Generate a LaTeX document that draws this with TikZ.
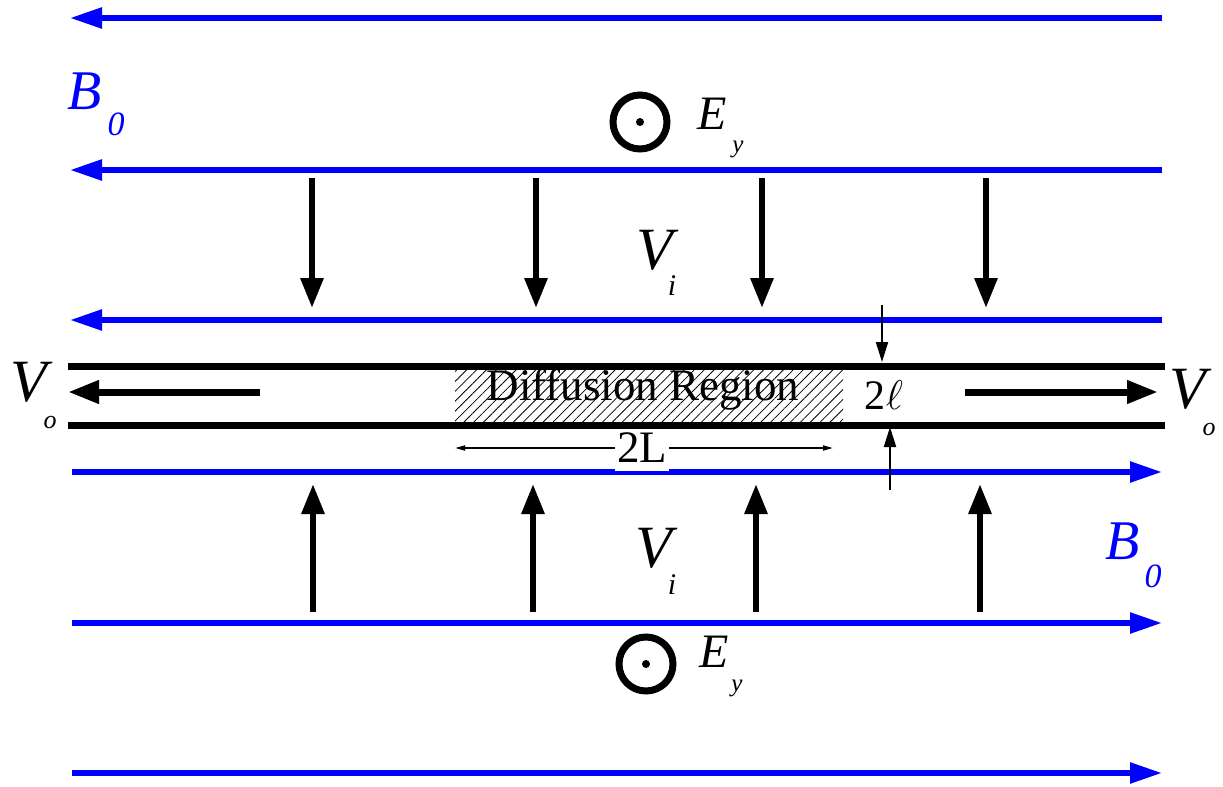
\documentclass[tikz,border=0pt]{standalone}
\usepackage{fontspec}
\setmainfont{Liberation Serif}
\usetikzlibrary{arrows.meta,patterns.meta}

\begin{document}
\begin{tikzpicture}[x=0.5pt,y=-0.5pt,
  fieldline/.style={blue,line width=2.75pt,-{Triangle[length=16pt,width=10pt]}},
  inflow/.style={line width=3pt,-{Triangle[length=15pt,width=11pt]}},
  outflow/.style={line width=3.5pt,-{Triangle[length=15.5pt,width=11pt]}},
  sheet/.style={line width=3.5pt},
  dimline/.style={line width=0.8pt,-{Triangle[length=5pt,width=2.5pt]}},
  gapline/.style={line width=1pt,-{Triangle[length=10pt,width=6pt]}},
  sym/.style={inner sep=0pt,font=\fontsize{#1}{#1}\selectfont\itshape},
  txt/.style={inner sep=0pt,font=\fontsize{22.5}{24}\selectfont},
  outof/.style={circle,draw,line width=3.5pt,minimum size=27pt,inner sep=0pt}]

  % Frame
  \useasboundingbox (0,0) rectangle (1223,787);

  % Field lines B0
  \foreach \y in {18,170,320}
    \draw[fieldline] (1162,\y) -- (70,\y);
  \foreach \y in {472,623,773}
    \draw[fieldline] (72,\y) -- (1162,\y);

  % Diffusion region
  \fill[pattern={Lines[angle=45,distance=3.5pt,line width=0.4pt]}]
    (455,368) rectangle (843,423);
  \node[txt] (diff) at (643,390) {Diffusion Region};

  % Length 2L
  \node[txt,fill=white,inner xsep=1pt,inner ysep=4pt] (len) at (642,448) {2L};
  \coordinate (lenl) at (455,448);
  \coordinate (lenr) at (833,448);
  \draw[dimline] (len.west) -- (lenl);
  \draw[dimline] (len.east) -- (lenr);

  % Current sheet edges
  \draw[sheet] (68,366) -- (1165,366);
  \draw[sheet] (68,425) -- (1165,425);

  % Width 2l
  \node[txt,font=\fontsize{21}{24}\selectfont] (wid) at (884,395) {2$\ell$};
  \coordinate (widt) at (882,305);
  \coordinate (widb) at (890,490);
  \draw[gapline] (widt) -- (882,362);
  \draw[gapline] (widb) -- (890,427);

  % Inflow
  \foreach \x in {312,536,762,986}
    \draw[inflow] (\x,178) -- (\x,308);
  \foreach \x in {313,533,756,980}
    \draw[inflow] (\x,612) -- (\x,484);

  % Outflow
  \draw[outflow] (260,392) -- (68,392);
  \draw[outflow] (965,392) -- (1158,392);

  % Out-of-plane E field
  \node[outof] (eup) at (640,122) {};
  \fill (eup) circle (2pt);
  \node[outof] (elo) at (646,664) {};
  \fill (elo) circle (2pt);

  % Labels
  \node[sym=24] (eyu) at (712,114) {E};
  \node[sym=12.5] (eyusub) at (738,149) {y};
  \node[sym=24] (eyl) at (714,652) {E};
  \node[sym=12.5] (eylsub) at (737,688) {y};

  \node[sym=30] (viu) at (655,250) {V};
  \node[sym=15] (viusub) at (672,286) {i};
  \node[sym=30] (vil) at (654,548) {V};
  \node[sym=15] (vilsub) at (672,585) {i};

  \node[sym=30] (vol) at (29,382) {V};
  \node[sym=13] (volsub) at (50,422) {o};
  \node[sym=30] (vor) at (1188,389) {V};
  \node[sym=13] (vorsub) at (1209,429) {o};

  \node[sym=28,blue] (bup) at (85,91) {B};
  \node[sym=17,blue] (bupsub) at (116,124) {0};
  \node[sym=28,blue] (blo) at (1123,541) {B};
  \node[sym=17,blue] (blosub) at (1153,576) {0};

\end{tikzpicture}
\end{document}
